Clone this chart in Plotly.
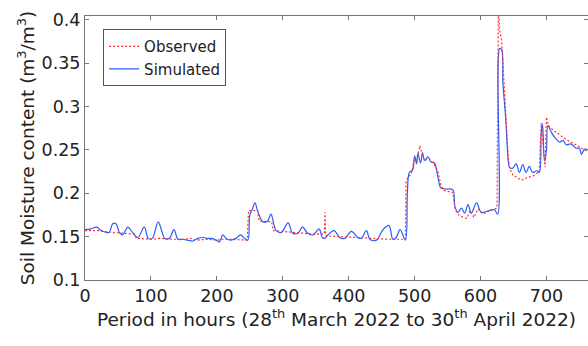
import plotly.graph_objects as go

obs_hours = [0, 20, 40, 60, 75, 78, 100, 115, 130, 150, 160, 170, 185, 200, 210, 220, 235, 246,
             248, 262, 264, 283, 286, 320, 345, 363, 364, 365, 390, 420, 460, 486,
             487, 490, 495, 500, 503, 508, 511, 515, 522, 530, 535, 540, 545, 558,
             562, 568, 579, 584, 590, 596, 604, 613, 625,
             627, 628, 629, 632, 634, 637, 640, 642, 644, 649, 656, 662, 670, 680, 689,
             692, 695, 698, 700, 703, 710, 720, 730, 740, 750, 758, 763]
obs_values = [0.157, 0.157, 0.155, 0.154, 0.153, 0.148, 0.147, 0.148, 0.147, 0.147, 0.148, 0.146, 0.147, 0.146, 0.147, 0.147, 0.146, 0.146,
              0.180, 0.180, 0.168, 0.167, 0.157, 0.155, 0.153, 0.153, 0.178, 0.151, 0.150, 0.148, 0.147, 0.147,
              0.213, 0.219, 0.222, 0.242, 0.238, 0.255, 0.246, 0.238, 0.240, 0.233, 0.226, 0.209, 0.203, 0.201,
              0.180, 0.174, 0.171, 0.180, 0.172, 0.182, 0.176, 0.180, 0.183,
              0.420, 0.400, 0.388, 0.376, 0.346, 0.300, 0.261, 0.242, 0.229, 0.221, 0.218, 0.215, 0.218, 0.220, 0.225,
              0.281, 0.255, 0.230, 0.288, 0.278, 0.273, 0.267, 0.262, 0.258, 0.253, 0.250, 0.248]

sim_hours = [0, 9, 18, 24, 32, 37, 42, 47, 52, 57, 65, 72, 80, 90, 96, 102, 111, 117, 121, 128,
             135, 141, 148, 156, 164, 171, 179, 186, 192, 199, 204, 209, 214, 221, 229, 236, 242, 247,
             250, 254, 258, 262, 270, 277, 282, 290, 298, 308, 315, 323, 330, 338, 346, 355, 360, 364,
             367, 378, 386, 394, 404, 414, 419, 427, 432, 442, 452, 461, 467, 472, 478, 486,
             489, 492, 497, 500, 503, 505, 509, 512, 515, 520, 525, 530, 535, 540, 548, 558,
             561, 566, 571, 576, 581, 586, 594, 601, 609, 621, 626,
             629, 632, 634, 638, 642, 644, 649, 654, 659, 664, 669, 674, 679, 685, 689,
             692, 694, 697, 700, 702, 707, 712, 720, 725, 730, 737, 745, 750, 753, 758, 763]
sim_values = [0.158, 0.159, 0.161, 0.157, 0.155, 0.155, 0.165, 0.165, 0.155, 0.152, 0.161, 0.155, 0.149, 0.161, 0.148, 0.148, 0.167, 0.155, 0.148, 0.148,
              0.158, 0.147, 0.147, 0.146, 0.145, 0.148, 0.149, 0.148, 0.148, 0.146, 0.144, 0.152, 0.148, 0.146, 0.148, 0.152, 0.148, 0.146,
              0.175, 0.182, 0.189, 0.179, 0.167, 0.168, 0.176, 0.157, 0.155, 0.166, 0.154, 0.154, 0.161, 0.154, 0.152, 0.159, 0.149, 0.148,
              0.151, 0.157, 0.149, 0.148, 0.156, 0.149, 0.148, 0.157, 0.147, 0.146, 0.158, 0.163, 0.147, 0.149, 0.158, 0.146,
              0.200, 0.224, 0.227, 0.243, 0.234, 0.246, 0.235, 0.247, 0.238, 0.242, 0.236, 0.235, 0.220, 0.206, 0.205, 0.204,
              0.185, 0.178, 0.183, 0.177, 0.187, 0.177, 0.189, 0.178, 0.179, 0.181, 0.176,
              0.367, 0.366, 0.327, 0.288, 0.238, 0.230, 0.229, 0.234, 0.224, 0.233, 0.224, 0.231, 0.224, 0.226, 0.224,
              0.268, 0.280, 0.237, 0.250, 0.278, 0.271, 0.265, 0.259, 0.261, 0.256, 0.257, 0.252, 0.252, 0.245, 0.251, 0.250]

x_ticks = [0, 100, 200, 300, 400, 500, 600, 700]
y_ticks = [0.1, 0.15, 0.2, 0.25, 0.3, 0.35, 0.4]
y_tick_labels = ["0.1", "0.15", "0.2", "0.25", "0.3", "0.35", "0.4"]

FONT = "DejaVu Sans"

fig = go.Figure()
fig.add_trace(go.Scatter(x=sim_hours, y=sim_values, mode="lines", name="Simulated",
                         line=dict(color="#2a5cff", width=1.2, shape="spline", smoothing=1.0),
                         legendrank=2))
fig.add_trace(go.Scatter(x=obs_hours, y=obs_values, mode="lines", name="Observed",
                         line=dict(color="#ff3030", width=1.2, dash="2px,2px"), legendrank=1))

axis_common = dict(showline=True, linecolor="#777", linewidth=1, mirror="ticks",
                   ticks="inside", ticklen=4, tickcolor="#777", showgrid=False, zeroline=False,
                   tickfont=dict(family=FONT, size=17.5, color="#222"))

fig.update_xaxes(range=[0, 763], tickvals=x_ticks,
                 title=dict(text="Period in hours (28<sup>th</sup> March 2022 to 30<sup>th</sup> April 2022)",
                            font=dict(family=FONT, size=18.5, color="#222"), standoff=4),
                 **axis_common)
fig.update_yaxes(range=[0.1, 0.4045], tickvals=y_ticks, ticktext=y_tick_labels,
                 title=dict(text="Soil Moisture content (m<sup>3</sup>/m<sup>3</sup>)",
                            font=dict(family=FONT, size=18.5, color="#222"), standoff=2),
                 **axis_common)

fig.update_layout(width=588, height=346, margin=dict(l=85, r=0, t=16, b=66),
                  paper_bgcolor="white", plot_bgcolor="white",
                  legend=dict(x=0.036, y=0.95, xanchor="left", yanchor="top",
                              bgcolor="white", bordercolor="#555", borderwidth=1,
                              font=dict(family=FONT, size=15, color="#222"),
                              tracegroupgap=0, itemwidth=30))

fig.write_html("out.html")
